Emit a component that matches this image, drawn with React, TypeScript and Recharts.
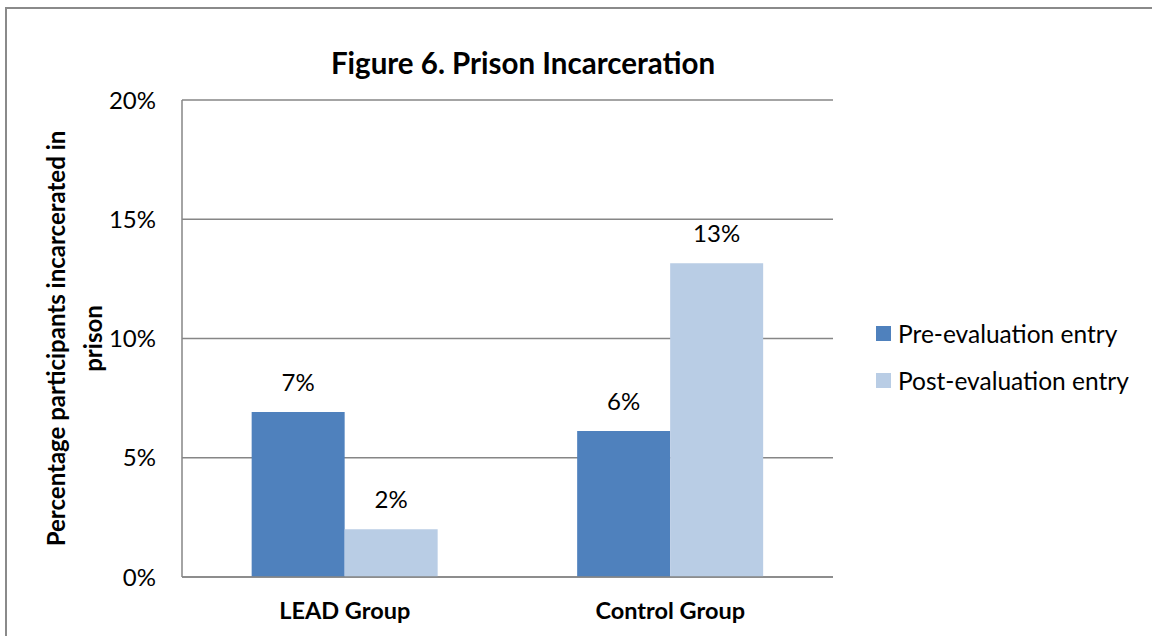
import { BarChart, Bar, XAxis, YAxis, CartesianGrid, Legend, LabelList } from 'recharts'

const groups = ['LEAD Group', 'Control Group']
const preEntry = [6.92, 6.12]
const postEntry = [2.0, 13.15]
const yTicks = [0, 5, 10, 15, 20]

const FONT = 'Lato, Carlito, Calibri, "Noto Sans", sans-serif'
const PRE_COLOR = '#4f81bd'
const POST_COLOR = '#b9cde5'
const GRID = '#868686'

const data = groups.map((g, i) => ({ group: g, pre: preEntry[i], post: postEntry[i] }))

const SERIES = [
  { key: 'pre', label: 'Pre-evaluation entry', color: PRE_COLOR },
  { key: 'post', label: 'Post-evaluation entry', color: POST_COLOR },
]

function YTitle(props: any) {
  const vb = props.viewBox
  const cy = vb.y + vb.height / 2
  const lines = [
    { x: 55, text: 'Percentage participants incarcerated in' },
    { x: 92, text: 'prison' },
  ]
  return (
    <g>
      {lines.map(l => (
        <text
          key={l.x}
          x={l.x}
          y={cy}
          transform={`rotate(-90 ${l.x} ${cy})`}
          textAnchor="middle"
          dominantBaseline="central"
          fontFamily={FONT}
          fontWeight="bold"
          fontSize={24}
          fill="#000"
        >
          {l.text}
        </text>
      ))}
    </g>
  )
}

function LegendBox() {
  return (
    <div style={{ fontFamily: FONT, fontSize: 24.5, color: '#000' }}>
      {SERIES.map(s => (
        <div key={s.key} style={{ display: 'flex', alignItems: 'center', height: 47 }}>
          <span style={{ width: 15, height: 15, background: s.color, marginRight: 7, display: 'inline-block' }} />
          <span>{s.label}</span>
        </div>
      ))}
    </div>
  )
}

export default function App() {
  return (
    <div style={{ position: 'absolute', left: 0, top: 0, width: 1152, height: 636, background: '#fff', overflow: 'hidden' }}>
      <div
        style={{
          position: 'absolute',
          left: 5,
          top: 7,
          width: 1200,
          height: 700,
          border: '2px solid #8a8a8a',
          boxSizing: 'border-box',
        }}
      />
      <div
        style={{
          position: 'absolute',
          left: 183,
          width: 680,
          top: 45,
          textAlign: 'center',
          fontFamily: FONT,
          fontWeight: 'bold',
          fontSize: 29.5,
          color: '#000',
        }}
      >
        Figure 6. Prison Incarceration
      </div>
      <div style={{ position: 'absolute', left: 0, top: 0 }}>
        <BarChart
          width={1152}
          height={636}
          data={data}
          margin={{ top: 100, right: 49, bottom: 29, left: 0 }}
          barCategoryGap="21.4%"
          barGap={0}
        >
          <CartesianGrid vertical={false} stroke={GRID} strokeWidth={1.5} />
          <XAxis
            dataKey="group"
            axisLine={{ stroke: GRID, strokeWidth: 1.5 }}
            tickLine={false}
            tickSize={0}
            tickMargin={25}
            tick={{ fill: '#000', fontSize: 23.5, fontWeight: 'bold', fontFamily: FONT }}
          />
          <YAxis
            width={182}
            domain={[0, 20]}
            ticks={yTicks}
            tickFormatter={(v: number) => `${v}%`}
            axisLine={{ stroke: GRID, strokeWidth: 1.5 }}
            tickLine={false}
            tickSize={0}
            tickMargin={26}
            tick={{ fill: '#000', fontSize: 24, fontFamily: FONT }}
            label={{ content: YTitle }}
          />
          <Legend
            layout="vertical"
            align="right"
            verticalAlign="middle"
            content={() => <LegendBox />}
            wrapperStyle={{ position: 'absolute', left: 876, top: 310, width: 270 }}
          />
          {SERIES.map(s => (
            <Bar key={s.key} dataKey={s.key} fill={s.color} isAnimationActive={false}>
              <LabelList
                dataKey={s.key}
                position="top"
                offset={21}
                formatter={(v: any) => `${Math.round(Number(v))}%`}
                style={{ fill: '#000', fontSize: 24, fontFamily: FONT }}
              />
            </Bar>
          ))}
        </BarChart>
      </div>
    </div>
  )
}
